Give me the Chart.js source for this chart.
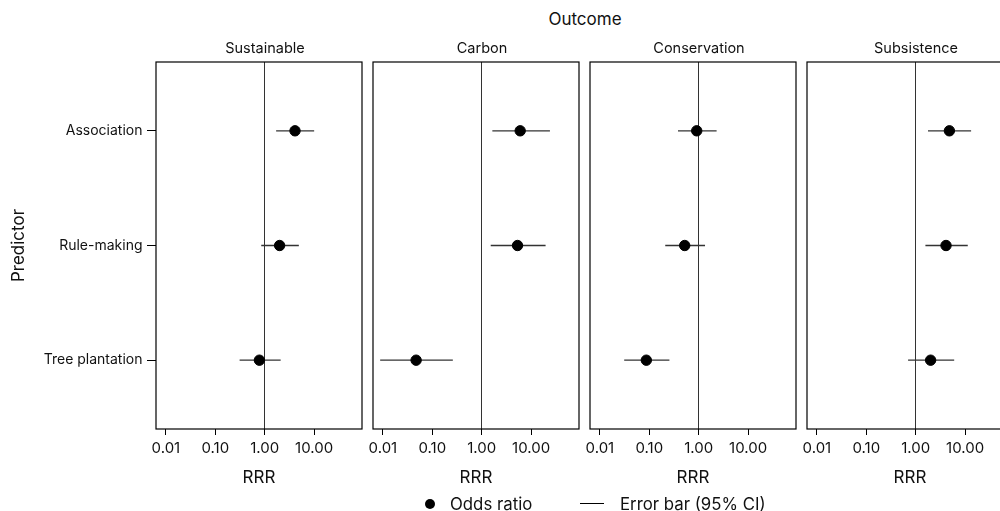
<!DOCTYPE html>
<html>
<head>
<meta charset="utf-8">
<script src="https://cdn.jsdelivr.net/npm/chart.js@4/dist/chart.umd.min.js"></script>
<style>
  html, body { margin: 0; padding: 0; background: #fff; overflow: hidden; }
  body { width: 1000px; height: 511px; position: relative; font-family: Inter, sans-serif; color: #111; }
  .panel { position: absolute; top: 0; height: 490px; }
  #outcome { position: absolute; top: 9px; left: 585px; transform: translateX(-50%); font-size: 17px; line-height: 21px; }
  .legend { position: absolute; top: 494px; font-size: 16.8px; line-height: 20px; }
  .dot { position: absolute; left: 425px; top: 499px; width: 10px; height: 10px; border-radius: 50%; background: #000; }
  .dash { position: absolute; left: 580px; top: 503px; width: 24px; height: 1.4px; background: #000; }
</style>
</head>
<body>
<div id="outcome">Outcome</div>
<div class="panel" style="left:0;width:372px"><canvas id="p0"></canvas></div>
<div class="panel" style="left:363px;width:226px"><canvas id="p1"></canvas></div>
<div class="panel" style="left:580px;width:226px"><canvas id="p2"></canvas></div>
<div class="panel" style="left:797px;width:226px"><canvas id="p3"></canvas></div>
<div class="dot"></div>
<div class="legend" style="left:450px">Odds ratio</div>
<div class="dash"></div>
<div class="legend" style="left:620px">Error bar (95% CI)</div>
<script>
const predictors = ["Association", "Rule-making", "Tree plantation"];
const outcomes = ["Sustainable", "Carbon", "Conservation", "Subsistence"];
const tickValues = [0.01, 0.1, 1, 10];

const sustainableOR = [4.1, 2.0, 0.78];
const sustainableLow = [1.7, 0.85, 0.31];
const sustainableHigh = [10.0, 4.9, 2.1];

const carbonOR = [6.0, 5.3, 0.047];
const carbonLow = [1.64, 1.52, 0.0088];
const carbonHigh = [24.0, 19.6, 0.26];

const conservationOR = [0.91, 0.52, 0.087];
const conservationLow = [0.38, 0.21, 0.031];
const conservationHigh = [2.3, 1.34, 0.255];

const subsistenceOR = [4.8, 4.1, 2.0];
const subsistenceLow = [1.77, 1.57, 0.70];
const subsistenceHigh = [13.2, 11.3, 6.0];

const panels = [
    [sustainableOR, sustainableLow, sustainableHigh],
    [carbonOR, carbonLow, carbonHigh],
    [conservationOR, conservationLow, conservationHigh],
    [subsistenceOR, subsistenceLow, subsistenceHigh]
];

Chart.defaults.font.family = "Inter, sans-serif";
Chart.defaults.color = "#111";

// box round each panel, strip title nudged a little right like the original
const frame = {
    id: "frame",
    afterLayout(chart) {
        if (chart.titleBlock) {
            chart.titleBlock.left += 6;
            chart.titleBlock.right += 6;
        }
    },
    afterDraw(chart) {
        const a = chart.chartArea;
        const c = chart.ctx;
        c.save();
        c.strokeStyle = "#000";
        c.lineWidth = 1.2;
        c.strokeRect(a.left, a.top, a.right - a.left, a.bottom - a.top);
        c.restore();
    }
};

function makePanel(idx) {
    const [or, low, high] = panels[idx];
    const first = idx === 0;

    const datasets = [{
        data: or.map((v, i) => ({ x: v, y: i })),
        backgroundColor: "#000",
        borderColor: "#000",
        pointRadius: 5.2,
        pointHoverRadius: 5.2
    }];
    predictors.forEach((p, i) => {
        datasets.push({
            data: [{ x: low[i], y: i }, { x: high[i], y: i }],
            showLine: true,
            borderColor: "#333",
            borderWidth: 1.3,
            pointRadius: 0
        });
    });

    new Chart(document.getElementById("p" + idx), {
        type: "scatter",
        data: { datasets },
        options: {
            responsive: true,
            maintainAspectRatio: false,
            animation: false,
            layout: { padding: { left: first ? 0 : 10, right: 10, top: 40, bottom: 0 } },
            plugins: {
                legend: { display: false },
                tooltip: { enabled: false },
                title: {
                    display: true,
                    text: outcomes[idx],
                    fullSize: false,
                    font: { size: 14.5, weight: "normal" },
                    padding: { top: 0, bottom: 4.6 }
                }
            },
            scales: {
                x: {
                    type: "logarithmic",
                    min: 0.0063,
                    max: 93,
                    afterBuildTicks(scale) {
                        scale.ticks = tickValues.map(v => ({ value: v }));
                    },
                    afterFit(scale) { scale.height = 61; },
                    ticks: {
                        font: { size: 15 },
                        padding: 4.5,
                        maxRotation: 0,
                        autoSkip: false,
                        callback: v => Number(v).toFixed(2)
                    },
                    grid: {
                        color: c => (c.tick && c.tick.value === 1) ? "#333" : "rgba(0,0,0,0)",
                        lineWidth: 1,
                        tickColor: "#000",
                        tickLength: 6
                    },
                    border: { display: false },
                    title: {
                        display: true,
                        text: "RRR",
                        font: { size: 17 },
                        padding: { top: 2, bottom: 2 }
                    }
                },
                y: {
                    type: "linear",
                    display: first,
                    reverse: true,
                    min: -0.6,
                    max: 2.6,
                    afterBuildTicks(scale) {
                        scale.ticks = predictors.map((p, i) => ({ value: i }));
                    },
                    afterFit(scale) { scale.width = first ? 156 : 0; },
                    ticks: {
                        font: { size: 14 },
                        padding: 4.5,
                        callback: v => predictors[v]
                    },
                    grid: {
                        drawOnChartArea: false,
                        tickColor: "#000",
                        tickLength: 9
                    },
                    border: { display: false },
                    title: {
                        display: true,
                        text: "Predictor",
                        font: { size: 17 },
                        padding: { top: 8.3, bottom: 0 }
                    }
                }
            }
        },
        plugins: [frame]
    });
}

outcomes.forEach((o, i) => makePanel(i));
</script>
</body>
</html>
